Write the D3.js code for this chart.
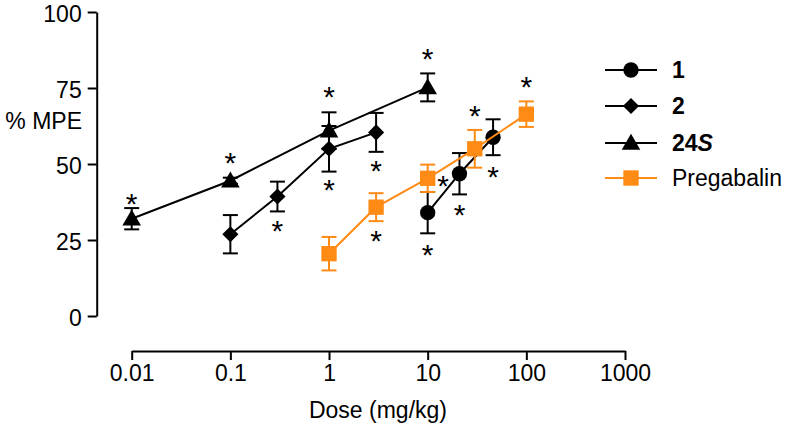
<!DOCTYPE html>
<html><head><meta charset="utf-8">
<script src="https://cdn.jsdelivr.net/npm/d3@7"></script>
<style>body{margin:0;background:#fff}svg{display:block}text{font-family:Arial,"Liberation Sans",sans-serif}</style>
</head><body><svg id="c" width="800" height="427"></svg>
<script>
// ---- data ----
const xTicks = [0.01, 0.1, 1, 10, 100, 1000];
const xTickLabels = ["0.01", "0.1", "1", "10", "100", "1000"];
const yTicks = [0, 25, 50, 75, 100];

const dose1 = [10, 21, 46];
const mean1 = [34, 46.8, 58.8];
const sem1 = [6.8, 6.8, 5.9];

const dose2 = [0.1, 0.3, 1, 3];
const mean2 = [26.9, 39.3, 55, 60.4];
const sem2 = [6.3, 4.9, 7.5, 6.4];

const dose24S = [0.01, 0.1, 1, 10];
const mean24S = [32, 44.5, 61, 75.2];
const sem24S = [3.5, 1, 6, 4.6];

const dosePreg = [1, 3, 10, 30, 100];
const meanPreg = [20.5, 35.8, 45.3, 55, 66.4];
const semPreg = [5.5, 4.6, 4.5, 6.2, 4.2];

// significance asterisks (dose, %MPE position)
const starDose = [0.01, 0.1, 1, 10, 0.3, 1, 3, 10, 14.3, 21, 46, 3, 30, 100];
const starVal  = [38.0, 51.7, 73.5, 85.9, 29.3, 42.7, 49.0, 21.4, 44.0, 34.4, 46.9, 26.0, 67.2, 76.5];

const seriesNames = ["1", "2", "24S", "Pregabalin"];

// ---- drawing ----
const BLACK = "#000", ORANGE = "#ff8a14";
const svg = d3.select("#c");
const x = d3.scaleLog().domain([0.01, 1000]).range([131.7, 625]);
const y = d3.scaleLinear().domain([0, 100]).range([316, 12]);

const diamond = {draw(ctx, size) { const r = Math.sqrt(size / 2); ctx.moveTo(0, -r); ctx.lineTo(r, 0); ctx.lineTo(0, r); ctx.lineTo(-r, 0); ctx.closePath(); }};

const series = [
  {name: seriesNames[0], dose: dose1, mean: mean1, sem: sem1, color: BLACK, shape: d3.symbolCircle, size: 185, dy: 0},
  {name: seriesNames[1], dose: dose2, mean: mean2, sem: sem2, color: BLACK, shape: diamond, size: 130, dy: 0},
  {name: seriesNames[2], dose: dose24S, mean: mean24S, sem: sem24S, color: BLACK, shape: d3.symbolTriangle, size: 150, dy: 1.5},
  {name: seriesNames[3], dose: dosePreg, mean: meanPreg, sem: semPreg, color: ORANGE, shape: d3.symbolSquare, size: 235, dy: 0}
];

// axes
const yAxis = d3.axisLeft(y).tickValues(yTicks).tickSize(9).tickSizeOuter(0).tickPadding(6);
const gy = svg.append("g").attr("transform", "translate(96.7,0)").call(yAxis);
gy.selectAll("text").attr("dy", "0.4em");
const xAxis = d3.axisBottom(x).tickValues(xTicks).tickFormat((d, i) => xTickLabels[i]).tickSize(9).tickSizeOuter(0).tickPadding(5);
const gx = svg.append("g").attr("transform", "translate(0,351)").call(xAxis);
[gx, gy].forEach(g => {
  g.selectAll("path,line").attr("stroke", "#000").attr("stroke-width", 2);
  g.selectAll("text").attr("font-size", 23).attr("fill", "#000").attr("font-family", "Arial, 'Liberation Sans', sans-serif");
});

svg.append("text").attr("x", 378).attr("y", 418).attr("text-anchor", "middle").attr("font-size", 23).text("Dose (mg/kg)");
svg.append("text").attr("x", 82).attr("y", 129).attr("text-anchor", "end").attr("font-size", 23).text("% MPE");

const line = d3.line().x(d => x(d.d)).y(d => y(d.m));
series.forEach(s => {
  const pts = s.dose.map((d, i) => ({d, m: s.mean[i], e: s.sem[i]}));
  const g = svg.append("g");
  g.append("path").datum(pts).attr("d", line).attr("fill", "none").attr("stroke", s.color).attr("stroke-width", 2);
  const eb = g.selectAll("g.eb").data(pts).join("g");
  eb.append("line").attr("x1", d => x(d.d)).attr("x2", d => x(d.d)).attr("y1", d => y(d.m + d.e)).attr("y2", d => y(d.m - d.e)).attr("stroke", s.color).attr("stroke-width", 2);
  [1, -1].forEach(sg => eb.append("line").attr("x1", d => x(d.d) - 7.5).attr("x2", d => x(d.d) + 7.5)
    .attr("y1", d => y(d.m + sg * d.e)).attr("y2", d => y(d.m + sg * d.e)).attr("stroke", s.color).attr("stroke-width", 2));
  g.selectAll("path.m").data(pts).join("path").attr("class", "m")
    .attr("transform", d => `translate(${x(d.d)},${y(d.m) + s.dy})`)
    .attr("d", d3.symbol().type(s.shape).size(s.size)).attr("fill", s.color);
});

// asterisks
svg.selectAll("text.star").data(starDose.map((d, i) => ({d, v: starVal[i]}))).join("text").attr("class", "star")
  .attr("x", d => x(d.d)).attr("y", d => y(d.v) + 14).attr("text-anchor", "middle").attr("font-size", 30).text("*");

// legend
const lg = svg.append("g");
const rowsY = [70, 106, 143, 178];
series.forEach((s, i) => {
  const r = lg.append("g").attr("transform", `translate(0,${rowsY[i]})`);
  r.append("line").attr("x1", 605).attr("x2", 657).attr("stroke", s.color).attr("stroke-width", 2);
  r.append("path").attr("transform", `translate(631,${s.dy})`)
    .attr("d", d3.symbol().type(s.shape).size(s.size)).attr("fill", s.color);
  const t = r.append("text").attr("x", 672).attr("y", 8).attr("font-size", 23);
  if (i < 3) t.attr("font-weight", "bold");
  if (s.name === "24S") { t.append("tspan").text("24"); t.append("tspan").attr("font-style", "italic").text("S"); }
  else t.text(s.name);
});
</script></body></html>
